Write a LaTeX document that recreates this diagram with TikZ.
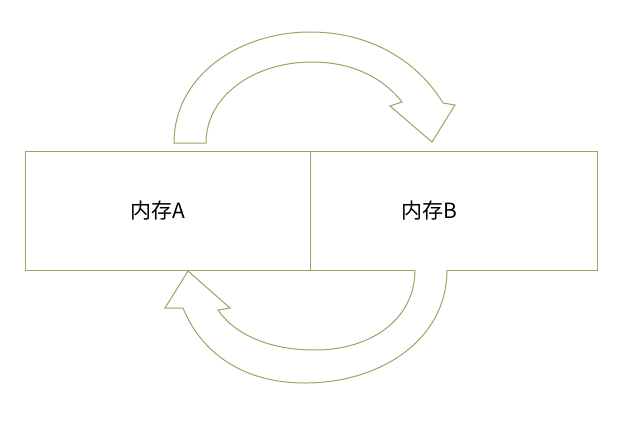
\documentclass[tikz,border=0pt]{standalone}
\usepackage{fontspec}
\setmainfont{Noto Sans CJK SC}
\definecolor{ol}{RGB}{145,170,100}
\begin{document}
\begin{tikzpicture}[x=1pt,y=-1pt,
  box/.style={draw=ol,line width=1pt,minimum width=285pt,minimum height=119pt,inner sep=0pt,font=\fontsize{21}{21}\selectfont},
  blk/.style={draw=ol,line width=1pt,fill=white,line join=miter}]
\useasboundingbox (0,0) rectangle (640,421);
\node[box,anchor=north west] (A) at (25,151) {\hspace*{-20pt}内存A};
\node[box,anchor=north west,minimum width=287pt] (B) at (310,151) {\hspace*{-50pt}内存B};
\draw[blk] (174,143) .. controls (174,75) and (240,32) .. (310,32) .. controls (375,32) and (420,65) .. (443,103)
  -- (455,105) -- (432,142) -- (390,106) -- (402,102)
  .. controls (385,80) and (355,62) .. (312,62) .. controls (255,62) and (206,95) .. (206,143) -- cycle;
\draw[blk] (447,270) .. controls (447,340) and (380,383) .. (305,383) .. controls (240,383) and (200,350) .. (183,308)
  -- (165,308) -- (188,271) -- (230,308) -- (218,310)
  .. controls (235,335) and (270,350) .. (315,350) .. controls (370,350) and (415,320) .. (415,270);
\end{tikzpicture}
\end{document}
